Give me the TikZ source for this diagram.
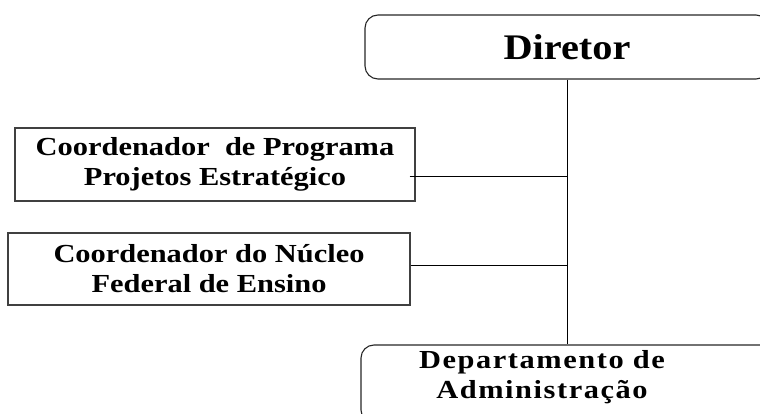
\documentclass[tikz,border=0pt]{standalone}
\usepackage{fontspec}
\setmainfont{Liberation Serif}[FakeStretch=1.17]
\newfontfamily\orgTopFont{Liberation Serif}[FakeStretch=1.12]
\newfontfamily\orgDeptFont{Liberation Serif}[FakeStretch=1.17, LetterSpace=6]
\usepackage{tikz}
\usetikzlibrary{positioning,calc}
\tikzset{
  orgbox/.style={rectangle, draw=black!75, line width=1.1pt, align=center,
                 inner sep=0pt, font=\fontsize{26}{30}\selectfont\bfseries},
  orgtop/.style={orgbox, rounded corners=13pt, draw=black!85},
  orglink/.style={draw=black, line width=0.9pt},
}

\begin{document}
\begin{tikzpicture}[x=1pt, y=-1pt]
  \useasboundingbox (0,0) rectangle (760,414);
  \clip (0,0) rectangle (760,414);
  \node[orgtop, minimum width=404pt, minimum height=64pt,
        font=\orgTopFont\fontsize{36}{40}\selectfont\bfseries] (dir) at (567,47) {Diretor};
  \node[orgbox, minimum width=400pt, minimum height=73pt] (prog) at (215,164.5)
       {Coordenador~ de Programa\\Projetos Estratégico};
  \node[orgbox, minimum width=402pt, minimum height=72pt] (nucleo) at (209,269)
       {Coordenador do Núcleo\\Federal de Ensino};
  \node[orgtop, minimum width=412pt, minimum height=78pt,
        font=\orgDeptFont\fontsize{26}{30}\selectfont\bfseries] (dept) at (567,384)
       {\hspace*{-50pt}\raisebox{0pt}[0pt][0pt]{\begin{tabular}{@{}c@{}}Departamento de\\[0pt]Administração\end{tabular}}};
  \coordinate (j1) at (567,176);
  \coordinate (j2) at (567,265);
  \draw[orglink] (dir.south) -- (dept.north);
  \draw[orglink] ($(prog.east |- j1)+(-6,0)$) -- (j1);
  \draw[orglink] (nucleo.east |- j2) -- (j2);
\end{tikzpicture}
\end{document}
